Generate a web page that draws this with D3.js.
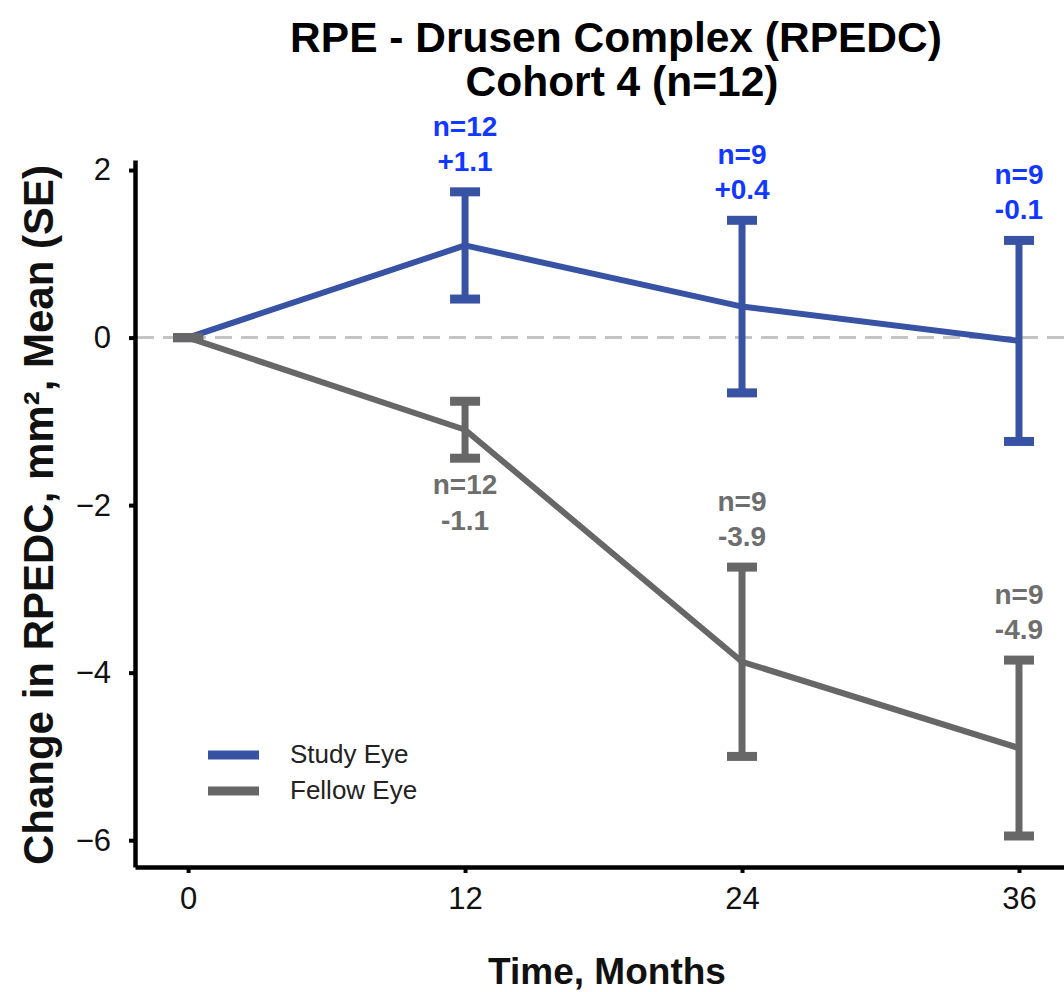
<!DOCTYPE html>
<html>
<head>
<meta charset="utf-8">
<script src="https://cdn.jsdelivr.net/npm/d3@7"></script>
<style>
  body { margin: 0; background: #fff; }
  svg text { font-family: "Liberation Sans", Arial, sans-serif; }
</style>
</head>
<body>
<svg id="chart" width="1064" height="992"></svg>
<script>
// data
var months = [0, 12, 24, 36];
var studyMean = [0, 1.1, 0.37, -0.04];
var studySE = [0, 0.64, 1.03, 1.2];
var fellowMean = [0, -1.1, -3.87, -4.9];
var fellowSE = [0, 0.34, 1.13, 1.05];
var studyN = ["", "n=12", "n=9", "n=9"];
var studyLabel = ["", "+1.1", "+0.4", "-0.1"];
var fellowN = ["", "n=12", "n=9", "n=9"];
var fellowLabel = ["", "-1.1", "-3.9", "-4.9"];
var xTicks = [0, 12, 24, 36];
var yTicks = [-6, -4, -2, 0, 2];

// colours
var blue = "#3953a4", blueText = "#1238ff";
var grey = "#676767", greyText = "#6e6e6e";

var svg = d3.select("#chart");

// scales (domain stretched so the axis lines run the full plot panel)
var x = d3.scaleLinear().domain([-2.3, 37.95]).range([135, 1064]);
var y = d3.scaleLinear().domain([-6.32, 2.12]).range([867, 160]);

// zero reference line
svg.append("line")
    .attr("x1", 137).attr("x2", 1064)
    .attr("y1", y(0)).attr("y2", y(0))
    .attr("stroke", "#c4c4c4").attr("stroke-width", 3)
    .attr("stroke-dasharray", "17,9");

// axes
var xAxis = svg.append("g")
    .attr("transform", "translate(0,867)")
    .call(d3.axisBottom(x).tickValues(xTicks).tickSize(6).tickSizeOuter(0).tickPadding(14));
var yAxis = svg.append("g")
    .attr("transform", "translate(135,0)")
    .call(d3.axisLeft(y).tickValues(yTicks).tickSize(6).tickSizeOuter(0).tickPadding(18));
[xAxis, yAxis].forEach(function (ax) {
    ax.select(".domain").attr("stroke", "#000").attr("stroke-width", 4.5);
    ax.selectAll(".tick line").attr("stroke", "#000").attr("stroke-width", 4);
    ax.selectAll(".tick text").attr("font-size", 31).attr("fill", "#111")
        .style("font-family", "Liberation Sans, Arial, sans-serif");
});

// draw one series: line, error bars, labels
function drawSeries(mean, se, color, textColor, nLab, vLab, below) {
    var pts = months.map(function (m, i) { return {m: m, v: mean[i], s: se[i], i: i}; });
    var line = d3.line().x(function (d) { return x(d.m); }).y(function (d) { return y(d.v); });

    var g = svg.append("g");
    g.append("path").datum(pts)
        .attr("d", line)
        .attr("fill", "none").attr("stroke", color).attr("stroke-width", 6)
        .attr("stroke-linejoin", "round");

    // error bars
    g.selectAll(".bar").data(pts).join("line")
        .attr("x1", function (d) { return x(d.m); }).attr("x2", function (d) { return x(d.m); })
        .attr("y1", function (d) { return y(d.v + d.s); }).attr("y2", function (d) { return y(d.v - d.s); })
        .attr("stroke", color).attr("stroke-width", 7);
    [1, -1].forEach(function (sign) {
        g.selectAll(".cap" + sign).data(pts).join("line")
            .attr("x1", function (d) { return x(d.m) - 15; }).attr("x2", function (d) { return x(d.m) + 15; })
            .attr("y1", function (d) { return y(d.v + sign * d.s); })
            .attr("y2", function (d) { return y(d.v + sign * d.s); })
            .attr("stroke", color).attr("stroke-width", 9);
    });

    // n / value labels
    var lab = pts.filter(function (d) { return d.m > 0; });
    lab.forEach(function (d) {
        var b = below(d);
        var top = y(d.v + d.s), bot = y(d.v - d.s);
        var y1 = b ? bot + 36 : top - 56;
        var y2 = b ? bot + 72 : top - 21;
        g.append("text").attr("x", x(d.m)).attr("y", y1)
            .attr("text-anchor", "middle").attr("font-size", 28).attr("font-weight", "bold")
            .attr("fill", textColor).text(nLab[d.i]);
        g.append("text").attr("x", x(d.m)).attr("y", y2)
            .attr("text-anchor", "middle").attr("font-size", 28).attr("font-weight", "bold")
            .attr("fill", textColor).text(vLab[d.i]);
    });
}

drawSeries(studyMean, studySE, blue, blueText, studyN, studyLabel, function () { return false; });
drawSeries(fellowMean, fellowSE, grey, greyText, fellowN, fellowLabel, function (d) { return d.m === 12; });

// legend
var legend = [{name: "Study Eye", color: blue}, {name: "Fellow Eye", color: grey}];
legend.forEach(function (d, i) {
    var ly = 755 + i * 36;
    svg.append("line").attr("x1", 208).attr("x2", 259).attr("y1", ly).attr("y2", ly)
        .attr("stroke", d.color).attr("stroke-width", 9);
    svg.append("text").attr("x", 290).attr("y", ly + 8)
        .attr("font-size", 26).attr("fill", "#222").text(d.name);
});

// titles
svg.append("text").attr("x", 616).attr("y", 52).attr("text-anchor", "middle")
    .attr("font-size", 42.5).attr("font-weight", "bold").attr("fill", "#000")
    .text("RPE - Drusen Complex (RPEDC)");
svg.append("text").attr("x", 622).attr("y", 96).attr("text-anchor", "middle")
    .attr("font-size", 42.5).attr("font-weight", "bold").attr("fill", "#000")
    .text("Cohort 4 (n=12)");
svg.append("text").attr("x", 607).attr("y", 984).attr("text-anchor", "middle")
    .attr("font-size", 37).attr("font-weight", "bold").attr("fill", "#111")
    .text("Time, Months");
svg.append("text")
    .attr("transform", "translate(53,515) rotate(-90)")
    .attr("text-anchor", "middle")
    .attr("font-size", 42).attr("font-weight", "bold").attr("fill", "#111")
    .text("Change in RPEDC, mm², Mean (SE)");
</script>
</body>
</html>
